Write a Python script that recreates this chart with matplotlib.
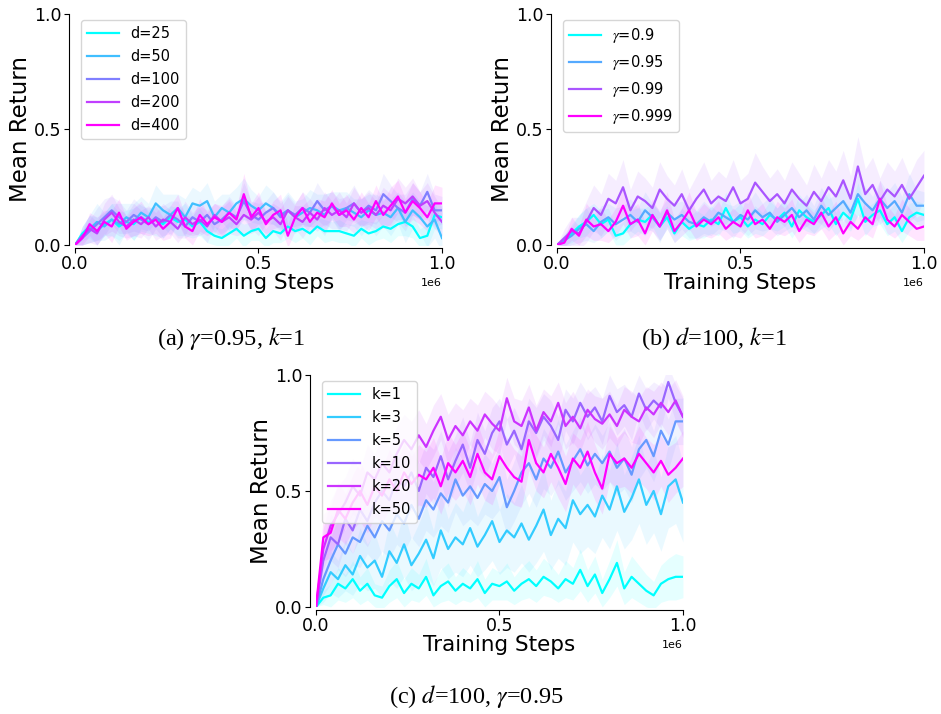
import numpy as np
import matplotlib.pyplot as plt

# x positions of the logged evaluation points (training steps)
steps = np.arange(51) * 20000

# (a) gamma=0.95, k=1, varying d
d_labels = ['d=25', 'd=50', 'd=100', 'd=200', 'd=400']
d25 = [0.0, 0.05, 0.08, 0.06, 0.09, 0.11, 0.08, 0.10, 0.09, 0.12,
       0.10, 0.11, 0.09, 0.12, 0.10, 0.11, 0.08, 0.10, 0.06, 0.04,
       0.03, 0.05, 0.07, 0.04, 0.06, 0.07, 0.03, 0.06, 0.05, 0.08,
       0.06, 0.07, 0.05, 0.08, 0.06, 0.06, 0.06, 0.05, 0.04, 0.07,
       0.05, 0.06, 0.08, 0.07, 0.09, 0.10, 0.08, 0.03, 0.04, 0.13, 0.12]
d50 = [0.0, 0.04, 0.07, 0.10, 0.08, 0.11, 0.09, 0.12, 0.10, 0.14,
       0.12, 0.18, 0.15, 0.13, 0.16, 0.12, 0.18, 0.17, 0.19, 0.12,
       0.16, 0.14, 0.18, 0.20, 0.17, 0.15, 0.18, 0.16, 0.13, 0.15,
       0.12, 0.14, 0.16, 0.15, 0.13, 0.17, 0.15, 0.16, 0.14, 0.12,
       0.15, 0.13, 0.14, 0.12, 0.16, 0.10, 0.15, 0.12, 0.08, 0.11, 0.03]
d100 = [0.0, 0.03, 0.06, 0.09, 0.12, 0.15, 0.12, 0.10, 0.13, 0.11,
        0.09, 0.12, 0.10, 0.13, 0.11, 0.08, 0.12, 0.10, 0.13, 0.09,
        0.11, 0.14, 0.12, 0.19, 0.13, 0.11, 0.14, 0.16, 0.12, 0.15,
        0.13, 0.16, 0.14, 0.19, 0.15, 0.17, 0.13, 0.16, 0.18, 0.14,
        0.17, 0.15, 0.22, 0.19, 0.16, 0.14, 0.20, 0.17, 0.23, 0.15, 0.15]
d200 = [0.0, 0.04, 0.07, 0.05, 0.11, 0.14, 0.10, 0.08, 0.11, 0.09,
        0.12, 0.08, 0.11, 0.10, 0.07, 0.12, 0.09, 0.11, 0.08, 0.13,
        0.10, 0.12, 0.09, 0.13, 0.11, 0.14, 0.10, 0.12, 0.09, 0.15,
        0.12, 0.10, 0.14, 0.11, 0.16, 0.13, 0.15, 0.12, 0.18, 0.14,
        0.16, 0.13, 0.17, 0.15, 0.20, 0.18, 0.21, 0.17, 0.19, 0.14, 0.10]
d400 = [0.0, 0.03, 0.09, 0.06, 0.10, 0.08, 0.14, 0.07, 0.10, 0.12,
        0.09, 0.11, 0.07, 0.10, 0.16, 0.08, 0.06, 0.13, 0.09, 0.12,
        0.10, 0.14, 0.11, 0.22, 0.12, 0.16, 0.09, 0.13, 0.15, 0.04,
        0.12, 0.16, 0.10, 0.14, 0.12, 0.18, 0.13, 0.15, 0.11, 0.16,
        0.12, 0.19, 0.13, 0.17, 0.21, 0.14, 0.19, 0.16, 0.12, 0.18, 0.18]
d25_sd = [0.0, 0.03, 0.05, 0.06, 0.05, 0.07, 0.06, 0.05, 0.07, 0.06,
          0.05, 0.07, 0.06, 0.05, 0.06, 0.07, 0.05, 0.06, 0.05, 0.04,
          0.04, 0.05, 0.04, 0.05, 0.04, 0.05, 0.04, 0.05, 0.04, 0.05,
          0.05, 0.04, 0.05, 0.04, 0.05, 0.04, 0.05, 0.04, 0.05, 0.04,
          0.05, 0.04, 0.05, 0.06, 0.05, 0.06, 0.05, 0.04, 0.05, 0.06, 0.05]
d50_sd = [0.0, 0.04, 0.06, 0.08, 0.06, 0.07, 0.09, 0.06, 0.08, 0.07,
          0.06, 0.08, 0.07, 0.09, 0.06, 0.08, 0.07, 0.06, 0.08, 0.07,
          0.06, 0.08, 0.07, 0.09, 0.07, 0.06, 0.08, 0.07, 0.06, 0.08,
          0.07, 0.06, 0.08, 0.07, 0.09, 0.06, 0.08, 0.07, 0.06, 0.08,
          0.07, 0.09, 0.06, 0.08, 0.07, 0.09, 0.08, 0.07, 0.09, 0.08, 0.06]
d100_sd = [0.0, 0.03, 0.05, 0.07, 0.08, 0.06, 0.07, 0.05, 0.07, 0.06,
           0.07, 0.05, 0.07, 0.06, 0.08, 0.05, 0.07, 0.06, 0.07, 0.05,
           0.06, 0.07, 0.05, 0.08, 0.06, 0.07, 0.05, 0.07, 0.06, 0.07,
           0.05, 0.07, 0.06, 0.08, 0.07, 0.06, 0.07, 0.05, 0.08, 0.06,
           0.07, 0.06, 0.09, 0.07, 0.06, 0.08, 0.07, 0.06, 0.08, 0.07, 0.06]
d200_sd = [0.0, 0.04, 0.06, 0.05, 0.07, 0.08, 0.06, 0.05, 0.07, 0.06,
           0.05, 0.06, 0.07, 0.05, 0.06, 0.07, 0.05, 0.06, 0.07, 0.05,
           0.06, 0.07, 0.05, 0.08, 0.06, 0.07, 0.05, 0.06, 0.07, 0.06,
           0.05, 0.07, 0.06, 0.05, 0.07, 0.06, 0.08, 0.06, 0.07, 0.06,
           0.07, 0.06, 0.08, 0.07, 0.09, 0.07, 0.08, 0.06, 0.08, 0.07, 0.06]
d400_sd = [0.0, 0.03, 0.05, 0.06, 0.05, 0.07, 0.06, 0.05, 0.06, 0.07,
           0.05, 0.06, 0.05, 0.07, 0.06, 0.05, 0.06, 0.07, 0.05, 0.06,
           0.07, 0.06, 0.05, 0.09, 0.06, 0.07, 0.05, 0.06, 0.07, 0.05,
           0.06, 0.07, 0.05, 0.06, 0.07, 0.06, 0.05, 0.07, 0.06, 0.07,
           0.06, 0.07, 0.06, 0.08, 0.07, 0.06, 0.08, 0.07, 0.06, 0.08, 0.07]

# (b) d=100, k=1, varying gamma
g_labels = [r'$\gamma$=0.9', r'$\gamma$=0.95', r'$\gamma$=0.99', r'$\gamma$=0.999']
g90 = [0.0, 0.02, 0.05, 0.08, 0.10, 0.13, 0.09, 0.11, 0.04, 0.05,
       0.09, 0.11, 0.10, 0.13, 0.08, 0.12, 0.05, 0.10, 0.07, 0.09,
       0.08, 0.11, 0.09, 0.16, 0.10, 0.12, 0.08, 0.11, 0.09, 0.13,
       0.11, 0.14, 0.08, 0.15, 0.12, 0.10, 0.13, 0.16, 0.09, 0.14,
       0.11, 0.20, 0.10, 0.13, 0.15, 0.09, 0.12, 0.06, 0.12, 0.14, 0.13]
g95 = [0.0, 0.02, 0.04, 0.07, 0.09, 0.06, 0.10, 0.12, 0.09, 0.11,
       0.13, 0.10, 0.15, 0.12, 0.08, 0.14, 0.11, 0.13, 0.10, 0.09,
       0.12, 0.10, 0.14, 0.12, 0.10, 0.13, 0.11, 0.15, 0.12, 0.14,
       0.10, 0.13, 0.16, 0.12, 0.15, 0.11, 0.17, 0.13, 0.16, 0.19,
       0.14, 0.22, 0.18, 0.15, 0.20, 0.16, 0.19, 0.14, 0.22, 0.17, 0.17]
g99 = [0.0, 0.03, 0.06, 0.05, 0.10, 0.16, 0.13, 0.20, 0.18, 0.25,
       0.15, 0.21, 0.19, 0.16, 0.24, 0.20, 0.17, 0.22, 0.15, 0.20,
       0.24, 0.18, 0.21, 0.19, 0.25, 0.18, 0.20, 0.27, 0.23, 0.19,
       0.22, 0.18, 0.24, 0.20, 0.17, 0.23, 0.19, 0.25, 0.21, 0.28,
       0.20, 0.34, 0.22, 0.26, 0.19, 0.24, 0.21, 0.26, 0.20, 0.25, 0.30]
g999 = [0.0, 0.01, 0.07, 0.04, 0.11, 0.08, 0.09, 0.06, 0.10, 0.17,
        0.09, 0.11, 0.05, 0.13, 0.08, 0.15, 0.06, 0.10, 0.15, 0.08,
        0.11, 0.09, 0.12, 0.07, 0.10, 0.08, 0.15, 0.09, 0.11, 0.07,
        0.12, 0.10, 0.13, 0.06, 0.11, 0.09, 0.14, 0.08, 0.12, 0.05,
        0.10, 0.07, 0.12, 0.09, 0.20, 0.11, 0.08, 0.13, 0.10, 0.07, 0.08]
g90_sd = [0.0, 0.02, 0.04, 0.05, 0.06, 0.05, 0.06, 0.05, 0.04, 0.05,
          0.06, 0.05, 0.06, 0.05, 0.06, 0.05, 0.04, 0.06, 0.05, 0.06,
          0.05, 0.06, 0.05, 0.07, 0.05, 0.06, 0.05, 0.06, 0.05, 0.06,
          0.05, 0.06, 0.05, 0.07, 0.06, 0.05, 0.06, 0.07, 0.05, 0.06,
          0.05, 0.07, 0.06, 0.05, 0.06, 0.05, 0.06, 0.05, 0.06, 0.05, 0.05]
g95_sd = [0.0, 0.03, 0.04, 0.06, 0.07, 0.05, 0.07, 0.06, 0.07, 0.06,
          0.07, 0.06, 0.08, 0.06, 0.07, 0.06, 0.07, 0.06, 0.07, 0.06,
          0.07, 0.06, 0.07, 0.06, 0.07, 0.06, 0.07, 0.08, 0.06, 0.07,
          0.06, 0.07, 0.08, 0.06, 0.07, 0.06, 0.08, 0.07, 0.06, 0.08,
          0.07, 0.09, 0.07, 0.06, 0.08, 0.07, 0.08, 0.07, 0.09, 0.07, 0.06]
g99_sd = [0.0, 0.04, 0.06, 0.07, 0.09, 0.10, 0.09, 0.11, 0.10, 0.12,
          0.09, 0.11, 0.10, 0.09, 0.12, 0.10, 0.09, 0.11, 0.09, 0.10,
          0.12, 0.10, 0.11, 0.10, 0.12, 0.10, 0.11, 0.13, 0.11, 0.10,
          0.11, 0.10, 0.12, 0.11, 0.09, 0.12, 0.10, 0.12, 0.11, 0.13,
          0.10, 0.13, 0.11, 0.12, 0.10, 0.12, 0.11, 0.12, 0.10, 0.12, 0.11]
g999_sd = [0.0, 0.02, 0.05, 0.04, 0.07, 0.06, 0.07, 0.05, 0.06, 0.08,
           0.06, 0.07, 0.05, 0.07, 0.06, 0.08, 0.05, 0.06, 0.08, 0.06,
           0.07, 0.06, 0.07, 0.05, 0.06, 0.05, 0.08, 0.06, 0.07, 0.05,
           0.07, 0.06, 0.07, 0.05, 0.06, 0.05, 0.07, 0.06, 0.07, 0.05,
           0.06, 0.05, 0.07, 0.06, 0.08, 0.06, 0.05, 0.07, 0.06, 0.05, 0.06]

# (c) d=100, gamma=0.95, varying k
k_labels = ['k=1', 'k=3', 'k=5', 'k=10', 'k=20', 'k=50']
k1 = [0.0, 0.04, 0.05, 0.10, 0.08, 0.12, 0.07, 0.10, 0.05, 0.04,
      0.09, 0.12, 0.06, 0.10, 0.08, 0.13, 0.05, 0.09, 0.11, 0.07,
      0.10, 0.08, 0.12, 0.06, 0.10, 0.09, 0.11, 0.07, 0.10, 0.12,
      0.09, 0.13, 0.11, 0.08, 0.12, 0.10, 0.16, 0.09, 0.14, 0.06,
      0.12, 0.19, 0.08, 0.13, 0.10, 0.07, 0.05, 0.10, 0.12, 0.13, 0.13]
k3 = [0.0, 0.08, 0.15, 0.12, 0.18, 0.14, 0.22, 0.17, 0.20, 0.13,
      0.24, 0.19, 0.27, 0.18, 0.23, 0.29, 0.21, 0.33, 0.25, 0.30,
      0.27, 0.34, 0.26, 0.31, 0.37, 0.28, 0.33, 0.30, 0.36, 0.29,
      0.35, 0.42, 0.31, 0.38, 0.34, 0.46, 0.40, 0.44, 0.39, 0.48,
      0.42, 0.52, 0.41, 0.47, 0.55, 0.44, 0.50, 0.40, 0.52, 0.55, 0.45]
k5 = [0.0, 0.12, 0.20, 0.27, 0.23, 0.30, 0.28, 0.35, 0.30, 0.37,
      0.33, 0.40, 0.36, 0.44, 0.38, 0.46, 0.42, 0.49, 0.45, 0.55,
      0.48, 0.52, 0.47, 0.53, 0.50, 0.56, 0.43, 0.50, 0.58, 0.62,
      0.55, 0.64, 0.60, 0.67, 0.58, 0.63, 0.68, 0.61, 0.66, 0.62,
      0.67, 0.60, 0.64, 0.57, 0.68, 0.72, 0.65, 0.76, 0.70, 0.80, 0.80]
k10 = [0.0, 0.20, 0.30, 0.27, 0.38, 0.33, 0.42, 0.37, 0.45, 0.50,
       0.46, 0.55, 0.52, 0.58, 0.50, 0.60, 0.56, 0.65, 0.55, 0.63,
       0.70, 0.60, 0.72, 0.66, 0.75, 0.80, 0.70, 0.76, 0.68, 0.80,
       0.75, 0.82, 0.78, 0.72, 0.85, 0.80, 0.88, 0.82, 0.86, 0.80,
       0.91, 0.84, 0.87, 0.82, 0.92, 0.85, 0.89, 0.86, 0.97, 0.88, 0.82]
k20 = [0.0, 0.25, 0.35, 0.40, 0.45, 0.52, 0.48, 0.58, 0.55, 0.62,
       0.58, 0.66, 0.72, 0.68, 0.74, 0.69, 0.76, 0.82, 0.72, 0.78,
       0.74, 0.80, 0.76, 0.83, 0.79, 0.76, 0.90, 0.80, 0.78, 0.86,
       0.76, 0.84, 0.80, 0.88, 0.78, 0.82, 0.77, 0.85, 0.81, 0.79,
       0.83, 0.78, 0.85, 0.82, 0.80, 0.86, 0.83, 0.88, 0.84, 0.89, 0.82]
k50 = [0.0, 0.30, 0.32, 0.42, 0.38, 0.45, 0.50, 0.44, 0.52, 0.48,
       0.55, 0.50, 0.58, 0.53, 0.57, 0.55, 0.60, 0.52, 0.62, 0.58,
       0.63, 0.56, 0.66, 0.58, 0.55, 0.65, 0.60, 0.56, 0.54, 0.72,
       0.62, 0.58, 0.66, 0.60, 0.53, 0.64, 0.60, 0.67, 0.58, 0.51,
       0.66, 0.62, 0.64, 0.60, 0.66, 0.62, 0.58, 0.63, 0.57, 0.60, 0.64]
k1_sd = [0.0, 0.03, 0.05, 0.07, 0.06, 0.08, 0.06, 0.07, 0.05, 0.05,
         0.07, 0.08, 0.06, 0.07, 0.06, 0.08, 0.05, 0.07, 0.08, 0.06,
         0.07, 0.06, 0.08, 0.06, 0.07, 0.06, 0.08, 0.06, 0.07, 0.08,
         0.07, 0.08, 0.07, 0.06, 0.08, 0.07, 0.09, 0.07, 0.08, 0.06,
         0.08, 0.10, 0.07, 0.09, 0.08, 0.07, 0.06, 0.08, 0.09, 0.10, 0.09]
k3_sd = [0.0, 0.06, 0.09, 0.08, 0.11, 0.09, 0.12, 0.10, 0.12, 0.09,
         0.13, 0.11, 0.14, 0.11, 0.13, 0.15, 0.12, 0.16, 0.13, 0.15,
         0.14, 0.16, 0.13, 0.15, 0.17, 0.14, 0.16, 0.15, 0.17, 0.14,
         0.16, 0.18, 0.15, 0.17, 0.16, 0.18, 0.17, 0.18, 0.16, 0.18,
         0.17, 0.19, 0.16, 0.18, 0.19, 0.17, 0.18, 0.16, 0.18, 0.19, 0.17]
k5_sd = [0.0, 0.07, 0.10, 0.11, 0.10, 0.12, 0.11, 0.12, 0.11, 0.13,
         0.12, 0.13, 0.12, 0.14, 0.12, 0.13, 0.12, 0.14, 0.13, 0.14,
         0.13, 0.14, 0.12, 0.13, 0.12, 0.14, 0.12, 0.13, 0.14, 0.13,
         0.12, 0.13, 0.12, 0.14, 0.12, 0.13, 0.14, 0.12, 0.13, 0.12,
         0.13, 0.12, 0.13, 0.12, 0.13, 0.12, 0.11, 0.12, 0.11, 0.10, 0.10]
k10_sd = [0.0, 0.08, 0.10, 0.10, 0.11, 0.10, 0.12, 0.11, 0.12, 0.11,
          0.12, 0.11, 0.12, 0.11, 0.12, 0.11, 0.12, 0.11, 0.12, 0.11,
          0.12, 0.11, 0.12, 0.10, 0.11, 0.10, 0.11, 0.10, 0.11, 0.10,
          0.11, 0.10, 0.11, 0.10, 0.09, 0.10, 0.09, 0.10, 0.09, 0.10,
          0.09, 0.10, 0.09, 0.10, 0.08, 0.09, 0.08, 0.09, 0.07, 0.08, 0.08]
k20_sd = [0.0, 0.09, 0.11, 0.12, 0.11, 0.12, 0.11, 0.12, 0.11, 0.12,
          0.11, 0.12, 0.11, 0.12, 0.11, 0.10, 0.11, 0.10, 0.11, 0.10,
          0.11, 0.10, 0.11, 0.10, 0.11, 0.10, 0.09, 0.10, 0.11, 0.10,
          0.11, 0.10, 0.11, 0.09, 0.10, 0.11, 0.10, 0.09, 0.10, 0.11,
          0.10, 0.09, 0.10, 0.11, 0.10, 0.09, 0.10, 0.09, 0.10, 0.09, 0.09]
k50_sd = [0.0, 0.10, 0.11, 0.12, 0.11, 0.12, 0.13, 0.12, 0.13, 0.12,
          0.13, 0.12, 0.13, 0.12, 0.13, 0.12, 0.13, 0.12, 0.13, 0.12,
          0.13, 0.12, 0.13, 0.12, 0.11, 0.12, 0.13, 0.12, 0.11, 0.13,
          0.12, 0.11, 0.12, 0.13, 0.12, 0.11, 0.12, 0.13, 0.12, 0.11,
          0.12, 0.11, 0.12, 0.11, 0.12, 0.11, 0.12, 0.11, 0.12, 0.11, 0.12]

panels = [
    dict(labels=d_labels, means=[d25, d50, d100, d200, d400],
         sds=[d25_sd, d50_sd, d100_sd, d200_sd, d400_sd],
         rect=[0.0797, 0.6569, 0.390, 0.3235],
         caption=r'(a) $\gamma$=0.95, $k$=1', cap_xy=(0.246, 0.526)),
    dict(labels=g_labels, means=[g90, g95, g99, g999],
         sds=[g90_sd, g95_sd, g99_sd, g999_sd],
         rect=[0.5919, 0.6569, 0.390, 0.3235],
         caption=r'(b) $d$=100, $k$=1', cap_xy=(0.759, 0.526)),
    dict(labels=k_labels, means=[k1, k3, k5, k10, k20, k50],
         sds=[k1_sd, k3_sd, k5_sd, k10_sd, k20_sd, k50_sd],
         rect=[0.3358, 0.1499, 0.390, 0.3249],
         caption=r'(c) $d$=100, $\gamma$=0.95', cap_xy=(0.506, 0.024)),
]

plt.rcParams['mathtext.fontset'] = 'stix'

fig = plt.figure(figsize=(9.41, 7.14), dpi=100)

for p in panels:
    ax = fig.add_axes(p['rect'])
    colors = plt.cm.cool(np.linspace(0, 1, len(p['labels'])))
    for label, mean, sd, c in zip(p['labels'], p['means'], p['sds'], colors):
        mean = np.array(mean)
        sd = np.array(sd)
        ax.fill_between(steps, mean - sd, mean + sd, color=c, alpha=0.1,
                        linewidth=0)
        ax.plot(steps, mean, color=c, lw=1.6, label=label)
    ax.set_xlim(0, 1e6)
    ax.set_ylim(0, 1)
    ax.set_xticks([0, 0.5e6, 1e6])
    ax.set_yticks([0, 0.5, 1.0])
    ax.set_yticklabels(['0.0', '0.5', '1.0'])
    ax.tick_params(labelsize=12.5, pad=2)
    ax.xaxis.get_offset_text().set_fontsize(8)
    ax.set_xlabel('Training Steps', fontsize=15.5, labelpad=0)
    ax.set_ylabel('Mean Return', fontsize=16.5, labelpad=2)
    ax.spines['top'].set_visible(False)
    ax.spines['right'].set_visible(False)
    ax.spines['left'].set_position(('outward', 4))
    ax.spines['bottom'].set_position(('outward', 2))
    ax.legend(loc='upper left', fontsize=10.5, handlelength=2.2,
              labelspacing=0.55, borderaxespad=0.4)
    fig.text(p['cap_xy'][0], p['cap_xy'][1], p['caption'],
             family='Liberation Serif', fontsize=17.5, ha='center', va='center')

fig.savefig('out.png', dpi=100)
